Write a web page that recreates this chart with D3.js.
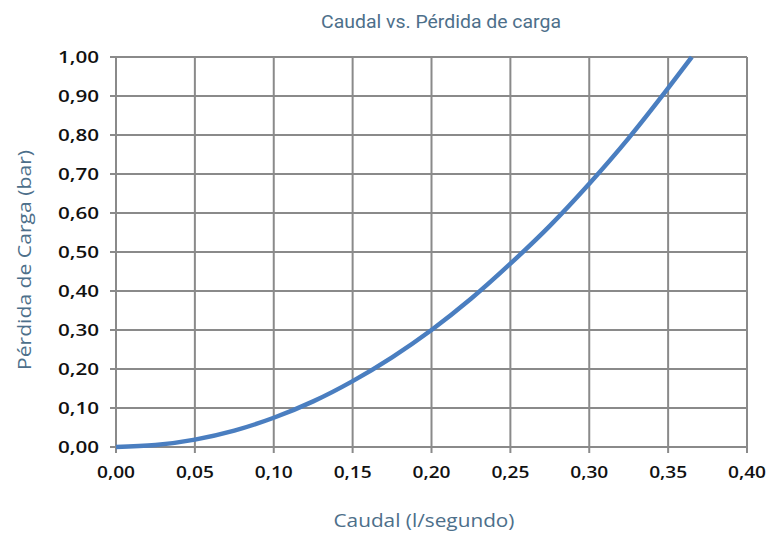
<!DOCTYPE html>
<html><head><meta charset="utf-8">
<script src="https://cdn.jsdelivr.net/npm/d3@7"></script>
<style>
body{margin:0;background:#fff;}
svg{display:block;}
</style></head>
<body><svg id="chart" width="767" height="533"></svg>
<script>
const caudal = [0, 0.025, 0.05, 0.075, 0.10, 0.125, 0.15, 0.175, 0.20, 0.225, 0.25, 0.275, 0.30, 0.325, 0.35, 0.365];
const perdida = [0, 0.005, 0.019, 0.042, 0.075, 0.117, 0.169, 0.23, 0.30, 0.38, 0.47, 0.567, 0.675, 0.792, 0.92, 1.00];
const xTicks = [0, 0.05, 0.10, 0.15, 0.20, 0.25, 0.30, 0.35, 0.40];
const yTicks = [0, 0.1, 0.2, 0.3, 0.4, 0.5, 0.6, 0.7, 0.8, 0.9, 1.0];
const title = "Caudal vs. Pérdida de carga";
const xLabel = "Caudal (l/segundo)";
const yLabel = "Pérdida de Carga (bar)";

const svg = d3.select("#chart");
const m = {left:116, right:747, top:57, bottom:447};
const x = d3.scaleLinear().domain([0,0.4]).range([m.left, m.right]);
const y = d3.scaleLinear().domain([0,1]).range([m.bottom, m.top]);
const fmt = v => v.toFixed(2).replace(".", ",");
const grid = "#8a8a8a";
const tickFont = "'Open Sans', Lato, sans-serif";

// grid lines
svg.append("g").selectAll("line").data(yTicks).join("line")
  .attr("x1", m.left-6).attr("x2", m.right).attr("y1", d=>y(d)).attr("y2", d=>y(d))
  .attr("stroke", grid).attr("stroke-width", 2);
svg.append("g").selectAll("line").data(xTicks).join("line")
  .attr("y1", m.top).attr("y2", m.bottom+6).attr("x1", d=>x(d)).attr("x2", d=>x(d))
  .attr("stroke", grid).attr("stroke-width", 2);

// tick labels
svg.append("g").selectAll("text").data(yTicks).join("text")
  .attr("x", 99).attr("y", d=>y(d)).attr("dy", "0.36em").attr("text-anchor","end")
  .attr("font-family",tickFont).attr("font-size", 16).attr("font-weight", 600)
  .attr("fill","#111").attr("textLength", 41).attr("lengthAdjust","spacingAndGlyphs").text(fmt);
svg.append("g").selectAll("text").data(xTicks).join("text")
  .attr("x", d=>x(d)).attr("y", 478).attr("text-anchor","middle")
  .attr("font-family",tickFont).attr("font-size", 16).attr("font-weight", 600)
  .attr("fill","#111").attr("textLength", 38).attr("lengthAdjust","spacingAndGlyphs").text(fmt);

// curve
const line = d3.line().x((d,i)=>x(caudal[i])).y(d=>y(d)).curve(d3.curveMonotoneX);
svg.append("path").datum(perdida).attr("d", line)
  .attr("fill","none").attr("stroke","#4a7ec0").attr("stroke-width", 4.5).attr("stroke-linecap","butt");

// titles
svg.append("text").attr("x", 441).attr("y", 28).attr("text-anchor","middle")
  .attr("font-family","Roboto, sans-serif").attr("font-size", 19)
  .attr("fill","#4d6f8a").attr("textLength", 240).attr("lengthAdjust","spacingAndGlyphs").text(title);
svg.append("text").attr("x", 424).attr("y", 527).attr("text-anchor","middle")
  .attr("font-family",tickFont).attr("font-size", 19)
  .attr("fill","#4d6f8a").attr("textLength", 181).attr("lengthAdjust","spacingAndGlyphs").text(xLabel);
svg.append("text").attr("transform","translate(31,260) rotate(-90)").attr("text-anchor","middle")
  .attr("font-family",tickFont).attr("font-size", 19)
  .attr("fill","#4d6f8a").attr("textLength", 220).attr("lengthAdjust","spacingAndGlyphs").text(yLabel);
</script></body></html>
